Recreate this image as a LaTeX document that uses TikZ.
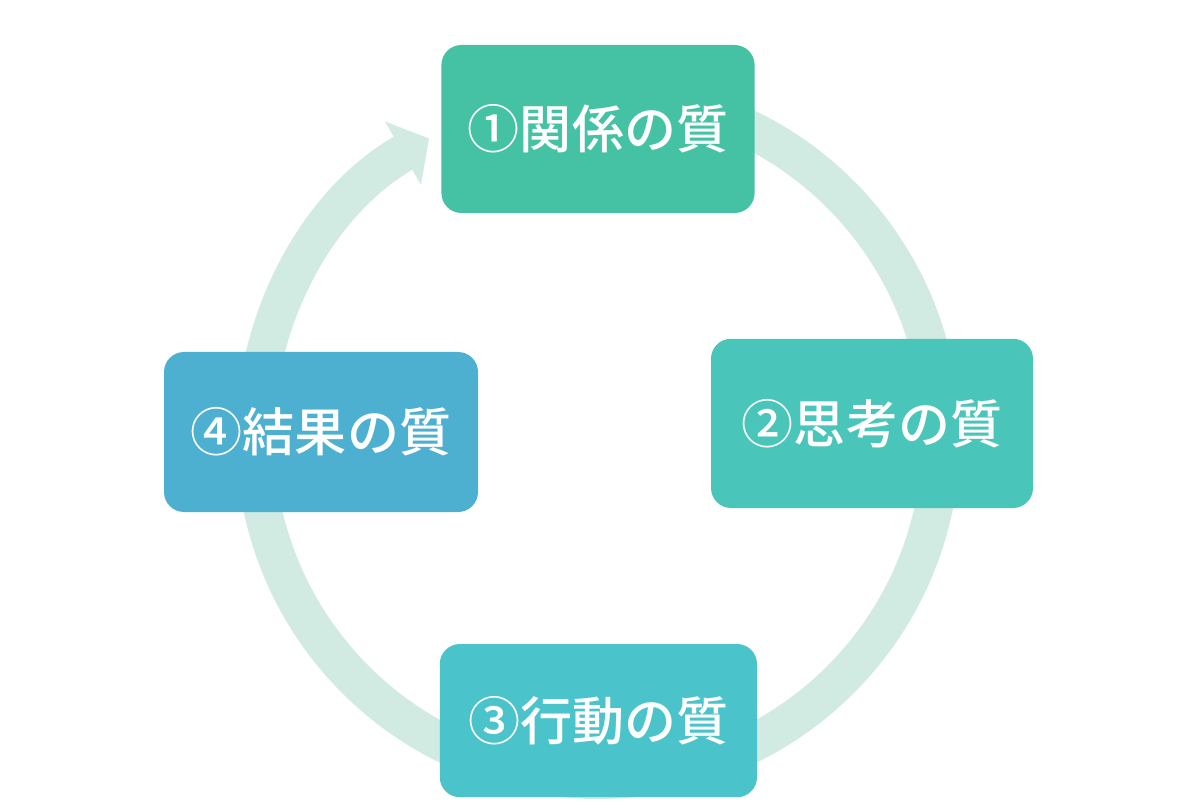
\documentclass[tikz,border=0pt]{standalone}
\usepackage{fontspec}
\setmainfont{Noto Sans CJK JP Medium}
\usetikzlibrary{arrows.meta}
\definecolor{ringc}{HTML}{D1EBE3}
\definecolor{relc}{HTML}{45C2A4}
\definecolor{thinkc}{HTML}{49C5B9}
\definecolor{actc}{HTML}{4BC3CB}
\definecolor{resc}{HTML}{4EB0D0}
\begin{document}
\begin{tikzpicture}[
  every node/.style = {shape=rectangle, rounded corners=0.5cm,
    align=center, text=white, font=\fontsize{37}{40}\selectfont},
  cycle/.style = {ringc, line width=0.95cm,
    -{Triangle[width=1.78cm,length=0.75cm]}}]
  \useasboundingbox (0,0) rectangle (30,20.025);
  \coordinate (c) at (14.95,9.1);
  \draw[cycle] (c) ++(90:8.575) arc[start angle=90, end angle=-240.5, radius=8.575];
  \node[fill=relc, minimum width=7.83cm, minimum height=4.2cm] (rel) at (14.95,16.8) {①関係の質};
  \node[fill=thinkc, minimum width=8.05cm, minimum height=4.23cm] (think) at (21.8,9.44) {②思考の質};
  \node[fill=actc, minimum width=7.93cm, minimum height=3.83cm] (act) at (14.96,2.01) {③行動の質};
  \node[fill=resc, minimum width=7.85cm, minimum height=4cm] (result) at (8.025,9.225) {④結果の質};
\end{tikzpicture}
\end{document}
